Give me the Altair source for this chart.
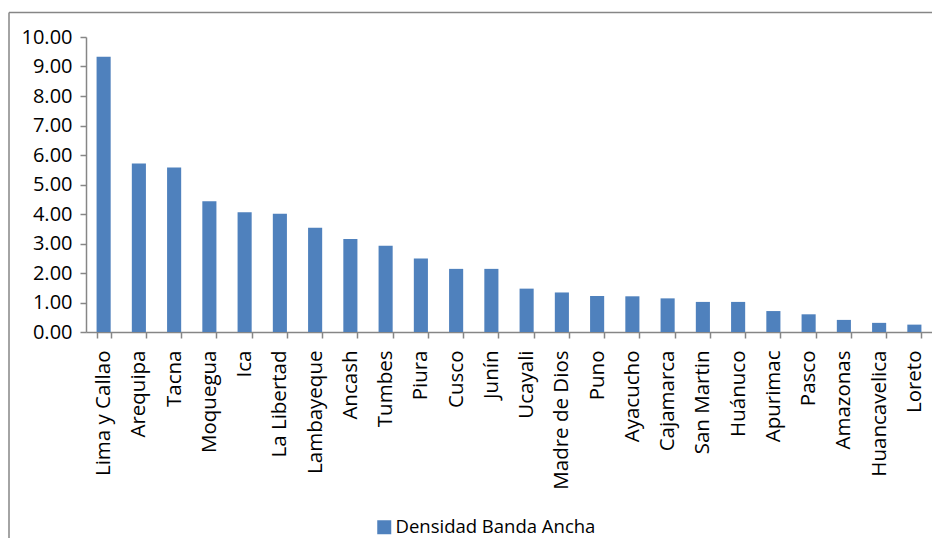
import altair as alt
import pandas as pd

regions = ["Lima y Callao", "Arequipa", "Tacna", "Moquegua", "Ica", "La Libertad",
           "Lambayeque", "Ancash", "Tumbes", "Piura", "Cusco", "Junín", "Ucayali",
           "Madre de Dios", "Puno", "Ayacucho", "Cajamarca", "San Martin", "Huánuco",
           "Apurimac", "Pasco", "Amazonas", "Huancavelica", "Loreto"]
values = [9.33, 5.71, 5.58, 4.43, 4.06, 4.01,
          3.53, 3.15, 2.92, 2.49, 2.14, 2.14, 1.47,
          1.34, 1.22, 1.21, 1.14, 1.02, 1.02,
          0.71, 0.60, 0.41, 0.31, 0.25]
series_name = "Densidad Banda Ancha"
y_ticks = [0, 1, 2, 3, 4, 5, 6, 7, 8, 9, 10]

df = pd.DataFrame({"Region": regions, "Densidad": values, "Serie": [series_name] * len(regions)})

FONT = "Open Sans"
GRAY = "#868686"
BLUE = "#4F81BD"

bars = alt.Chart(df).mark_bar(color=BLUE).encode(
    x=alt.X("Region:N", sort=regions,
            scale=alt.Scale(paddingInner=0.6, paddingOuter=0.3),
            axis=alt.Axis(title=None, labelAngle=-90, labelAlign="right", labelBaseline="middle",
                          labelPadding=12, tickSize=6, tickBand="extent", grid=False,
                          domainColor=GRAY, tickColor=GRAY, domainWidth=1.5, tickWidth=1.5,
                          labelFont=FONT, labelFontSize=20.5, labelColor="black")),
    y=alt.Y("Densidad:Q", scale=alt.Scale(domain=[0, 10], nice=False),
            axis=alt.Axis(title=None, values=y_ticks, format=".2f", grid=False,
                          tickSize=6, labelPadding=8,
                          domainColor=GRAY, tickColor=GRAY, domainWidth=1.5, tickWidth=1.5,
                          labelFont=FONT, labelFontSize=20, labelColor="black")),
    color=alt.Color("Serie:N", scale=alt.Scale(domain=[series_name], range=[BLUE]),
                    legend=alt.Legend(title=None, orient="none", legendX=289, legendY=481,
                                      symbolType="square", symbolSize=196, symbolStrokeWidth=0,
                                      labelFont=FONT, labelFontSize=18.5, labelColor="black",
                                      labelOffset=2, labelLimit=0, padding=0))
)

frame_df = pd.DataFrame({"k": [0]})
left_border = alt.Chart(frame_df).mark_rule(color=GRAY, strokeWidth=1.5).encode(
    x=alt.value(-77), y=alt.value(-24.5), y2=alt.value(501))
top_border = alt.Chart(frame_df).mark_rule(color=GRAY, strokeWidth=1.5).encode(
    x=alt.value(-77), x2=alt.value(846), y=alt.value(-24.5))

chart = alt.layer(left_border, top_border, bars).properties(
    width=846, height=295,
    autosize=alt.AutoSizeParams(type="none"),
    padding={"left": 78, "top": 29, "right": 0, "bottom": 206},
    background="white",
).configure_view(stroke="transparent", strokeWidth=0).configure_axis(grid=False)

chart.save("out.html", embed_options={"renderer": "svg", "actions": False})
